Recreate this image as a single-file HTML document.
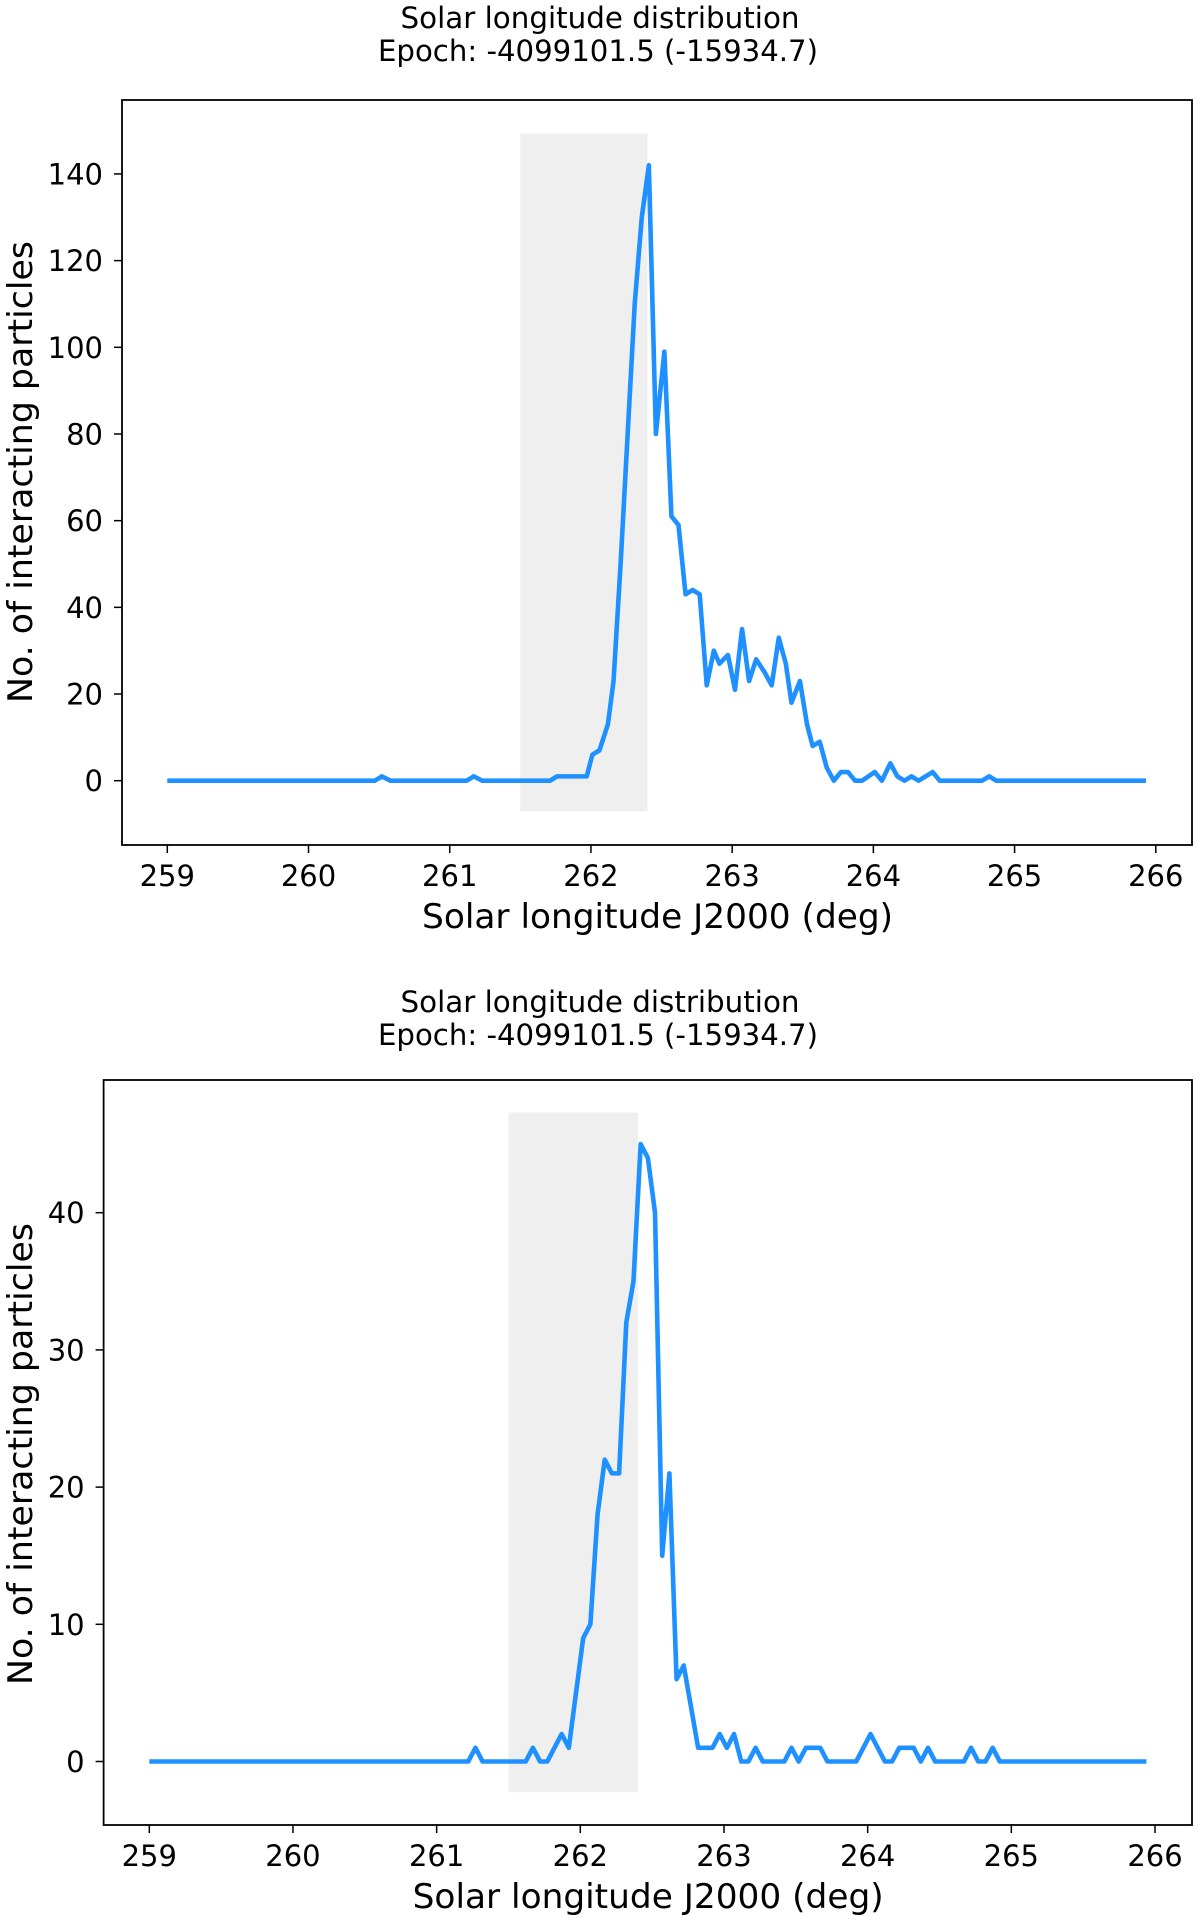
<!DOCTYPE html>
<html><head><meta charset="utf-8"><style>
html,body{margin:0;padding:0;background:#fff;}
svg{display:block;font-family:"DejaVu Sans","Liberation Sans",sans-serif;}
</style></head>
<body>
<svg id="fig" width="1200" height="1920" viewBox="0 0 1200 1920" xmlns="http://www.w3.org/2000/svg"></svg>
<script>
// ---- Top chart data ----
const topX = [259,260.47,260.52,260.58,261.12,261.17,261.23,261.71,261.76,261.97,262.01,262.06,262.12,262.16,262.21,262.26,262.31,262.36,262.41,262.46,262.52,262.57,262.62,262.67,262.72,262.77,262.82,262.87,262.91,262.97,263.02,263.07,263.12,263.17,263.23,263.28,263.33,263.38,263.42,263.48,263.53,263.57,263.62,263.67,263.72,263.77,263.82,263.87,263.92,264.01,264.06,264.12,264.17,264.22,264.27,264.32,264.37,264.42,264.47,264.77,264.82,264.87,265.93];
const topY = [0,0,1,0,0,1,0,0,1,1,6,7,13,23,50,80,110,130,142,80,99,61,59,43,44,43,22,30,27,29,21,35,23,28,25,22,33,27,18,23,13,8,9,3,0,2,2,0,0,2,0,4,1,0,1,0,1,2,0,0,1,0,0];
const topYTicks = [0,20,40,60,80,100,120,140];
// ---- Bottom chart data ----
const botX = [259,261.22,261.27,261.32,261.62,261.67,261.72,261.77,261.87,261.92,262.02,262.07,262.12,262.17,262.22,262.27,262.32,262.37,262.42,262.47,262.52,262.57,262.62,262.67,262.72,262.82,262.92,262.97,263.02,263.07,263.12,263.17,263.22,263.27,263.42,263.47,263.52,263.57,263.67,263.72,263.92,264.02,264.12,264.17,264.22,264.32,264.37,264.42,264.47,264.67,264.72,264.77,264.82,264.87,264.92,265.94];
const botY = [0,0,1,0,0,1,0,0,2,1,9,10,18,22,21,21,32,35,45,44,40,15,21,6,7,1,1,2,1,2,0,0,1,0,0,1,0,1,1,0,0,2,0,0,1,1,0,1,0,0,1,0,0,1,0,0];
const botYTicks = [0,10,20,30,40];
const xTicks = [259,260,261,262,263,264,265,266];
const shadeRange = [261.5,262.4];

const NS='http://www.w3.org/2000/svg';
const svg=document.getElementById('fig');
function mk(tag,attrs,parent){const e=document.createElementNS(NS,tag);for(const k in attrs)e.setAttribute(k,attrs[k]);(parent||svg).appendChild(e);return e;}

function chart(cfg){
  const g=mk('g',{});
  
  
  const sx=v=>cfg.x0px+(v-259)*(cfg.x266px-cfg.x0px)/7;
  const sy=v=>cfg.y0px-v*cfg.pxPerUnit;
  const sh=mk('rect',{x:sx(shadeRange[0]),y:sy(cfg.shadeTop),width:sx(shadeRange[1])-sx(shadeRange[0]),height:sy(cfg.shadeBot)-sy(cfg.shadeTop),fill:'#efefef'},g);
  
  
  let d='';
  cfg.xs.forEach((x,i)=>{d+=(i?'L':'M')+sx(x).toFixed(2)+' '+sy(cfg.ys[i]).toFixed(2);});
  const ln=mk('path',{d:d,fill:'none',stroke:'#1e90ff','stroke-width':4.6,'stroke-linejoin':'round'},g);
  
  
  const fr=mk('rect',{x:cfg.L,y:cfg.T,width:cfg.R-cfg.L,height:cfg.B-cfg.T,fill:'none',stroke:'#000','stroke-width':1.8},g);
  
  
  xTicks.forEach(t=>{
    mk('line',{x1:sx(t),x2:sx(t),y1:cfg.B,y2:cfg.B+8,stroke:'#000','stroke-width':1.5},g);
    const tx=mk('text',{x:sx(t),y:cfg.B+41,'text-anchor':'middle','font-size':29},g);
    tx.textContent=t;
    
    
  });
  cfg.yTicks.forEach(t=>{
    mk('line',{x1:cfg.L-8,x2:cfg.L,y1:sy(t),y2:sy(t),stroke:'#000','stroke-width':1.5},g);
    const tx=mk('text',{x:cfg.L-19,y:sy(t)+10.5,'text-anchor':'end','font-size':29},g);
    tx.textContent=t;
    
    
  });
  const t1=mk('text',{x:600,y:cfg.titleY,'text-anchor':'middle','font-size':29,textLength:399,lengthAdjust:'spacingAndGlyphs'},g);
  t1.textContent='Solar longitude distribution';
  
  
  const t2=mk('text',{x:598,y:cfg.titleY+33,'text-anchor':'middle','font-size':29,textLength:440,lengthAdjust:'spacingAndGlyphs'},g);
  t2.textContent='Epoch: -4099101.5 (-15934.7)';
  
  
  const xl=mk('text',{x:(sx(262.5)-4),y:cfg.B+83,'text-anchor':'middle','font-size':34,textLength:471,lengthAdjust:'spacingAndGlyphs'},g);
  xl.textContent='Solar longitude J2000 (deg)';
  
  
  const yl=mk('text',{x:0,y:0,'text-anchor':'middle','font-size':34,textLength:462,lengthAdjust:'spacingAndGlyphs',transform:'translate(32,'+cfg.ylabelY+') rotate(-90)'},g);
  yl.textContent='No. of interacting particles';
  
  
}

chart({name:'top-chart',xs:topX,ys:topY,yTicks:topYTicks,L:122,R:1192,T:100,B:845,
  x0px:167.3,x266px:1155.8,y0px:780.7,pxPerUnit:4.334,shadeTop:149.3,shadeBot:-7.07,titleY:28,ylabelY:472});
chart({name:'bottom-chart',xs:botX,ys:botY,yTicks:botYTicks,L:103.6,R:1192,T:1080,B:1825,
  x0px:149.3,x266px:1155,y0px:1761.5,pxPerUnit:13.72,shadeTop:47.3,shadeBot:-2.24,titleY:1012,ylabelY:1454});
</script>
</body></html>
